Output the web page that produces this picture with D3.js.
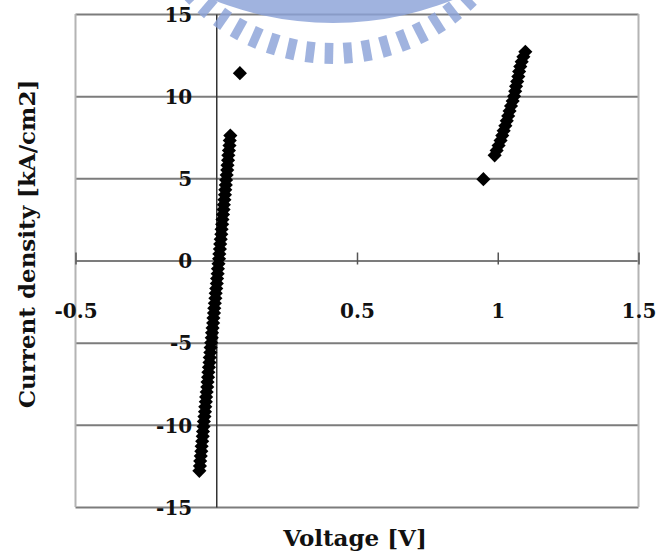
<!DOCTYPE html>
<html>
<head>
<meta charset="utf-8">
<script src="https://cdn.jsdelivr.net/npm/d3@7"></script>
<style>
  html, body { margin: 0; padding: 0; background: #fff; }
  svg { display: block; }
  text { font-family: "DejaVu Serif", serif; font-weight: bold; fill: #111; }
</style>
</head>
<body>
<script>
// ---- data ----
const xTickValues = [-0.5, 0.5, 1, 1.5];
const xTickLabels = ["-0.5", "0.5", "1", "1.5"];
const yTickValues = [-15, -10, -5, 0, 5, 10, 15];
const yTickLabels = ["-15", "-10", "-5", "0", "5", "10", "15"];

// dense branch near 0 V
const leftVoltage = [-0.060, -0.058, -0.057, -0.055, -0.053, -0.052, -0.050, -0.048, -0.047, -0.045,
  -0.044, -0.042, -0.040, -0.039, -0.037, -0.036, -0.034, -0.032, -0.031, -0.029,
  -0.028, -0.026, -0.024, -0.023, -0.021, -0.020, -0.018, -0.016, -0.015, -0.013,
  -0.011, -0.010, -0.008, -0.007, -0.005, -0.003, -0.002, 0.000, 0.002, 0.003,
  0.005, 0.006, 0.008, 0.010, 0.011, 0.013, 0.014, 0.016, 0.018, 0.019,
  0.021, 0.022, 0.024, 0.026, 0.027, 0.029, 0.031, 0.032, 0.034, 0.035,
  0.037, 0.039, 0.040, 0.042, 0.043, 0.045, 0.047, 0.048, 0.050];
const leftCurrent = [-12.8, -12.5, -12.2, -11.9, -11.6, -11.3, -11.0, -10.7, -10.4, -10.1,
  -9.8, -9.5, -9.2, -8.9, -8.6, -8.3, -8.0, -7.7, -7.4, -7.1,
  -6.8, -6.5, -6.2, -5.9, -5.6, -5.3, -5.0, -4.7, -4.4, -4.1,
  -3.8, -3.5, -3.2, -2.9, -2.6, -2.3, -2.0, -1.7, -1.4, -1.1,
  -0.8, -0.5, -0.2, 0.1, 0.4, 0.7, 1.0, 1.3, 1.6, 1.9,
  2.2, 2.5, 2.8, 3.1, 3.4, 3.7, 4.0, 4.3, 4.6, 4.9,
  5.2, 5.5, 5.8, 6.1, 6.4, 6.7, 7.0, 7.3, 7.6];

// branch near 1 V
const rightVoltage = [0.989, 0.996, 1.003, 1.010, 1.016, 1.021, 1.027, 1.032, 1.037, 1.042, 1.047,
  1.053, 1.058, 1.062, 1.065, 1.069, 1.073, 1.076, 1.080, 1.085, 1.091, 1.098];
const rightCurrent = [6.4, 6.7, 7.0, 7.3, 7.6, 7.9, 8.2, 8.5, 8.8, 9.1, 9.4,
  9.7, 10.0, 10.3, 10.6, 10.9, 11.2, 11.5, 11.8, 12.1, 12.4, 12.7];

// isolated points
const singleVoltage = [0.084, 0.949];
const singleCurrent = [11.4, 4.95];

const xLabel = "Voltage [V]";
const yLabel = "Current density [kA/cm2]";

// ---- layout ----
const W = 657, H = 557;
const plot = { left: 75.5, right: 638.5, top: 14, bottom: 507 };

const svg = d3.select("body").append("svg").attr("width", W).attr("height", H);
svg.append("rect").attr("width", W).attr("height", H).attr("fill", "#fff");

const x = d3.scaleLinear().domain([-0.5, 1.5]).range([plot.left, plot.right]);
const y = d3.scaleLinear().domain([-15, 15]).range([plot.bottom, plot.top]);

// horizontal gridlines (including top/bottom border)
const gy = svg.append("g").attr("transform", `translate(${plot.left},0)`)
  .call(d3.axisLeft(y).tickValues(yTickValues).tickSize(-(plot.right - plot.left)).tickFormat(""));
gy.select(".domain").remove();
gy.selectAll(".tick line").attr("stroke", "#7c7c7c").attr("stroke-width", 2);

// left / right borders
svg.append("line").attr("x1", plot.left).attr("x2", plot.left).attr("y1", plot.top).attr("y2", plot.bottom)
  .attr("stroke", "#b4b4b4").attr("stroke-width", 2);
svg.append("line").attr("x1", plot.right).attr("x2", plot.right).attr("y1", plot.top).attr("y2", plot.bottom)
  .attr("stroke", "#b4b4b4").attr("stroke-width", 2);

// y axis (at x = 0)
const yAxis = svg.append("g").attr("transform", `translate(${x(0)},0)`)
  .call(d3.axisLeft(y).tickValues(yTickValues).tickSize(0).tickPadding(24)
    .tickFormat((d, i) => yTickLabels[i]));
yAxis.select(".domain").attr("stroke", "#333").attr("stroke-width", 1.5);
yAxis.selectAll(".tick text").attr("font-size", 20).attr("font-family", "DejaVu Serif")
  .attr("font-weight", "bold").attr("fill", "#111").attr("dy", "0.36em");

// x axis (at y = 0)
const xAxis = svg.append("g").attr("transform", `translate(0,${y(0)})`)
  .call(d3.axisBottom(x).tickValues(xTickValues).tickSize(4)
    .tickFormat((d, i) => xTickLabels[i]));
xAxis.select(".domain").remove();
xAxis.selectAll(".tick line").attr("stroke", "#555").attr("stroke-width", 1.5).attr("y1", -8).attr("y2", 4);
xAxis.selectAll(".tick text").attr("font-size", 20).attr("font-family", "DejaVu Serif")
  .attr("font-weight", "bold").attr("fill", "#111").attr("y", 57).attr("dy", 0);

// data markers (diamonds)
const diamond = d3.symbol().type(d3.symbolSquare).size(100);
function drawSeries(xs, ys) {
  svg.append("g").selectAll("path").data(xs.map((v, i) => [v, ys[i]])).join("path")
    .attr("d", diamond)
    .attr("transform", d => `translate(${x(d[0])},${y(d[1])}) rotate(45)`)
    .attr("fill", "#000");
}
drawSeries(leftVoltage, leftCurrent);
drawSeries(rightVoltage, rightCurrent);
drawSeries(singleVoltage, singleCurrent);

// axis titles
svg.append("text").attr("x", 355).attr("y", 546).attr("text-anchor", "middle")
  .attr("font-size", 23).text(xLabel);
svg.append("text").attr("transform", "translate(35,244) rotate(-90)").attr("text-anchor", "middle")
  .attr("font-size", 23).text(yLabel);

// watermark (decorative logo fragment at the top)
const wm = svg.append("g").attr("fill", "#8ca3d8").attr("opacity", 0.82);
const cx = 333, cy = -140;
wm.append("path").attr("transform", `translate(${cx},-300)`)
  .attr("d", d3.arc().innerRadius(290).outerRadius(323).startAngle(Math.PI * 0.72).endAngle(Math.PI * 1.28)());
for (let a = -46; a <= 46; a += 5.6) {
  wm.append("rect").attr("x", -4.3).attr("y", 183).attr("width", 8.6).attr("height", 21)
    .attr("transform", `translate(${cx},${cy}) rotate(${-a})`);
}
</script>
</body>
</html>
